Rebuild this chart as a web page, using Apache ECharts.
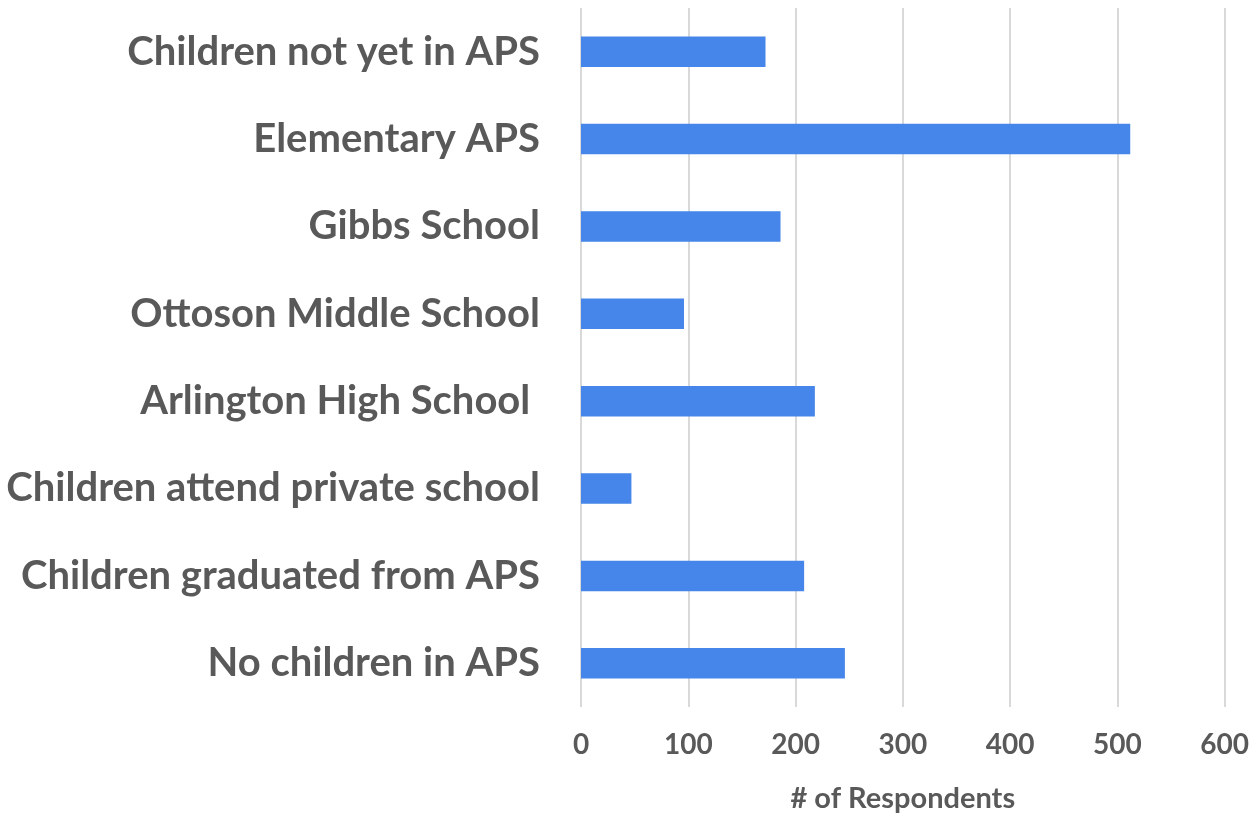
<!DOCTYPE html>
<html>
<head>
<meta charset="utf-8">
<script src="https://cdn.jsdelivr.net/npm/echarts@6/dist/echarts.min.js"></script>
<style>html,body{margin:0;padding:0;background:#fff}#c{width:1252px;height:818px}</style>
</head>
<body>
<div id="c"></div>
<script>
const categories = [
  "Children not yet in APS",
  "Elementary APS",
  "Gibbs School",
  "Ottoson Middle School",
  "Arlington High School ",
  "Children attend private school",
  "Children graduated from APS",
  "No children in APS"
];
const respondents = [172, 512, 186, 96, 218, 47, 208, 246];
const xTicks = [0, 100, 200, 300, 400, 500, 600];
const xAxisTitle = "# of Respondents";

const chart = echarts.init(document.getElementById('c'));
const textColor = '#595959';
const font = 'Lato, "Open Sans", sans-serif';
chart.setOption({
  animation: false,
  grid: { left: 581, right: 27, top: 8, bottom: 106, containLabel: false },
  xAxis: {
    type: 'value',
    min: xTicks[0],
    max: xTicks[xTicks.length - 1],
    interval: xTicks[1] - xTicks[0],
    name: xAxisTitle,
    nameLocation: 'middle',
    nameGap: 77,
    nameTextStyle: { color: textColor, fontSize: 29, fontWeight: 'bold', fontFamily: font },
    axisLine: { show: false },
    axisTick: { show: false },
    axisLabel: { color: textColor, fontSize: 28, fontWeight: 'bold', fontFamily: font, margin: 24 },
    splitLine: { show: true, lineStyle: { color: '#d9d9d9', width: 2 } }
  },
  yAxis: {
    type: 'category',
    inverse: true,
    data: categories,
    axisLine: { show: false },
    axisTick: { show: false },
    axisLabel: { color: textColor, fontSize: 40, fontWeight: 'bold', fontFamily: font, margin: 41 },
    splitLine: { show: false }
  },
  series: [{
    type: 'bar',
    data: respondents,
    barWidth: '35%',
    itemStyle: { color: '#4685e9' }
  }]
});
</script>
</body>
</html>
